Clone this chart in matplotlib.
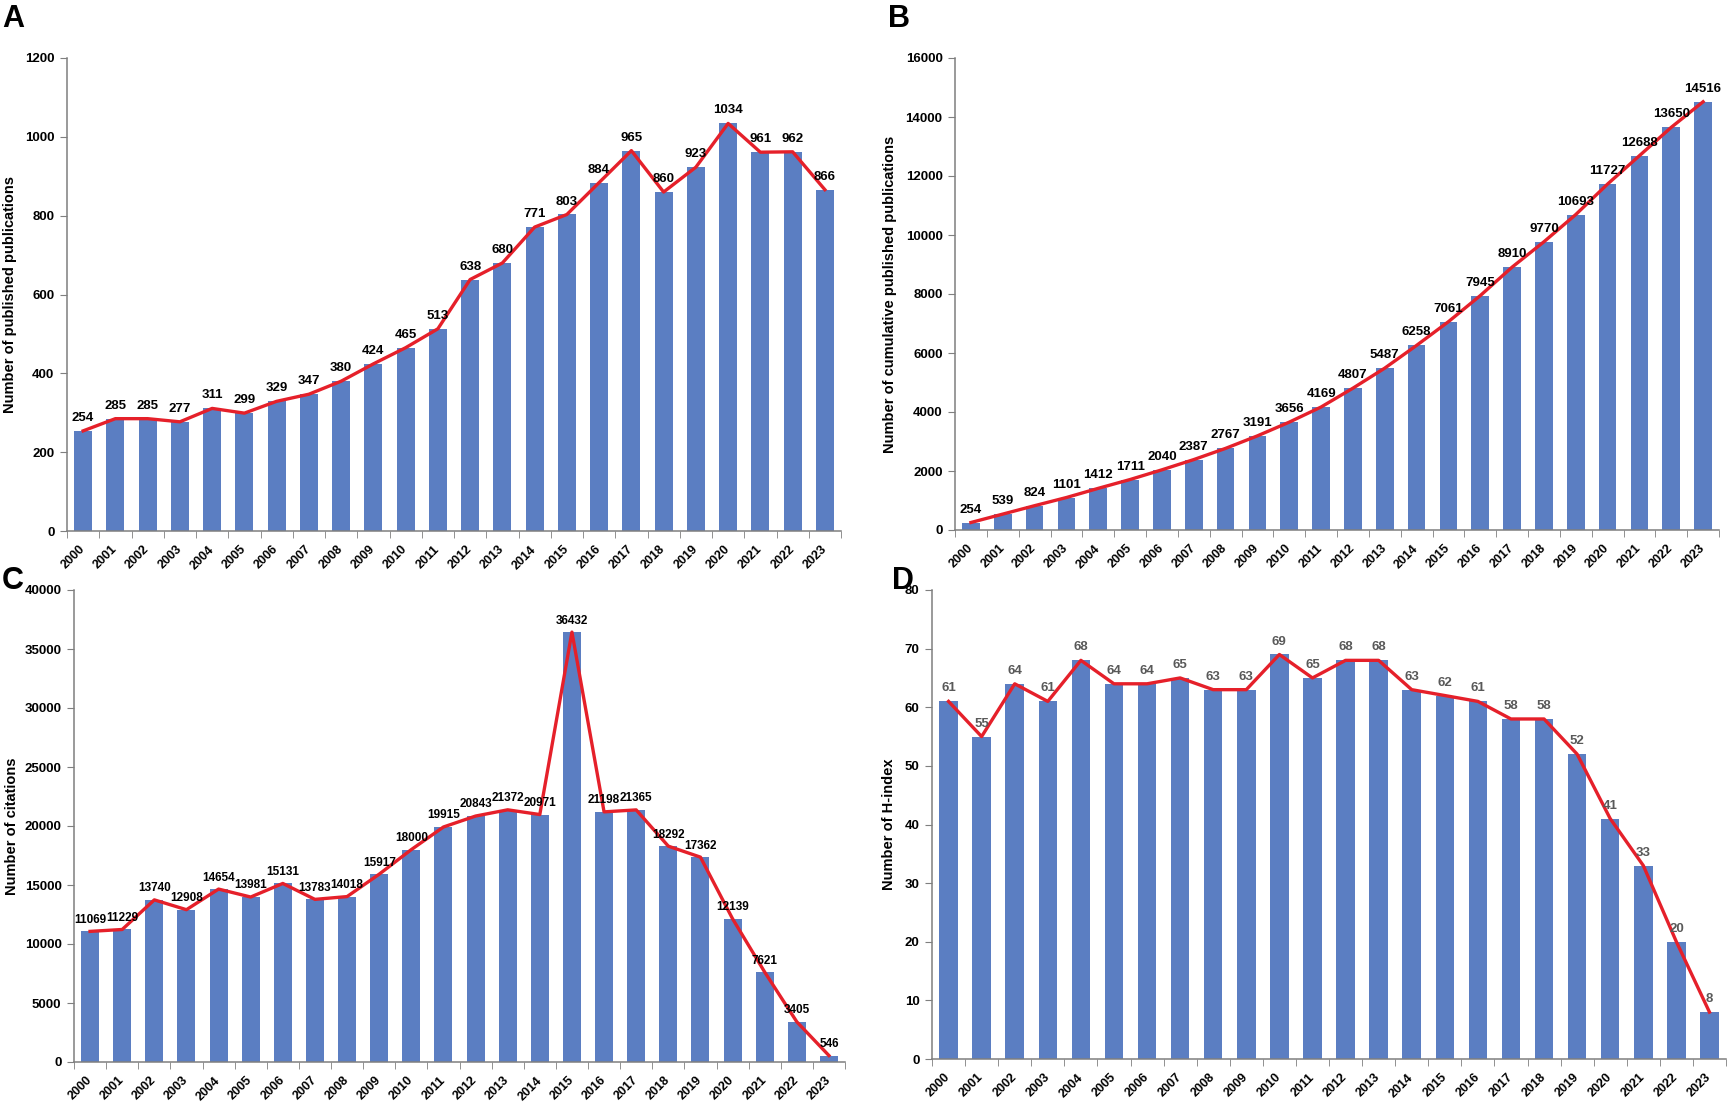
import numpy as np
import matplotlib.pyplot as plt
from matplotlib.ticker import MultipleLocator, FixedLocator

plt.rcParams['font.family'] = ['Liberation Sans', 'DejaVu Sans']

years = [str(y) for y in range(2000, 2024)]

pubs = [254, 285, 285, 277, 311, 299, 329, 347, 380, 424, 465, 513,
        638, 680, 771, 803, 884, 965, 860, 923, 1034, 961, 962, 866]

cum_pubs = [254, 539, 824, 1101, 1412, 1711, 2040, 2387, 2767, 3191, 3656, 4169,
            4807, 5487, 6258, 7061, 7945, 8910, 9770, 10693, 11727, 12688, 13650, 14516]

citations = [11069, 11229, 13740, 12908, 14654, 13981, 15131, 13783, 14018, 15917, 18000, 19915,
             20843, 21372, 20971, 36432, 21198, 21365, 18292, 17362, 12139, 7621, 3405, 546]

hindex = [61, 55, 64, 61, 68, 64, 64, 65, 63, 63, 69, 65,
          68, 68, 63, 62, 61, 58, 58, 52, 41, 33, 20, 8]

bar_color = '#5B7EC2'
line_color = '#E5202A'
spine_color = '#7F7F7F'

W, H = 1728, 1102
fig = plt.figure(figsize=(W / 100, H / 100), dpi=100)


def make_panel(rect_px, values, ymax, ystep, ylabel, letter, letter_pos,
               lab_color='black', lab_size=9.5, lab_off=5, ylab_pad=6):
    x0, y0, x1, y1 = rect_px
    ax = fig.add_axes([x0 / W, 1 - y1 / H, (x1 - x0) / W, (y1 - y0) / H])
    x = np.arange(len(values))
    ax.bar(x, values, width=0.56, color=bar_color, zorder=2)
    ax.plot(x, values, color=line_color, lw=2.4, zorder=3)
    for xi, v in zip(x, values):
        ax.annotate(str(v), (xi, v), xytext=(0, lab_off), textcoords='offset points',
                    ha='center', va='bottom', fontsize=lab_size,
                    fontweight='bold', color=lab_color, zorder=4)
    ax.set_xlim(-0.5, len(values) - 0.5)
    ax.set_ylim(0, ymax)
    ax.yaxis.set_major_locator(MultipleLocator(ystep))
    ax.set_xticks(x)
    ax.set_xticklabels(years, rotation=45, ha='right', va='center',
                       rotation_mode='anchor', fontsize=9, fontweight='bold')
    ax.xaxis.set_minor_locator(FixedLocator(np.arange(-0.5, len(values), 1.0)))
    ax.tick_params(axis='x', which='major', length=0, pad=12)
    ax.tick_params(axis='x', which='minor', length=5, color=spine_color, direction='out')
    ax.tick_params(axis='y', length=5, color=spine_color, labelsize=9.5, pad=4)
    for t in ax.get_yticklabels():
        t.set_fontweight('bold')
    for s in ['top', 'right']:
        ax.spines[s].set_visible(False)
    for s in ['left', 'bottom']:
        ax.spines[s].set_color(spine_color)
        ax.spines[s].set_linewidth(1.1)
    ax.set_ylabel(ylabel, fontsize=10.5, fontweight='bold', labelpad=ylab_pad)
    fig.text(letter_pos[0] / W, 1 - letter_pos[1] / H, letter, fontsize=22,
             fontweight='bold', ha='left', va='top')
    return ax


make_panel((67, 58, 841, 531), pubs, 1200, 200,
           'Number of published publications', 'A', (2, 4))
make_panel((955, 58, 1719, 530), cum_pubs, 16000, 2000,
           'Number of cumulative published publications', 'B', (888, 4))
make_panel((74, 590, 845, 1062), citations, 40000, 5000,
           'Number of citations', 'C', (2, 566), lab_size=8.5, lab_off=4, ylab_pad=4)
make_panel((932, 590, 1726, 1059), hindex, 80, 10,
           'Number of H-index', 'D', (892, 566), lab_color='#595959')

fig.savefig('out.png', dpi=100)
